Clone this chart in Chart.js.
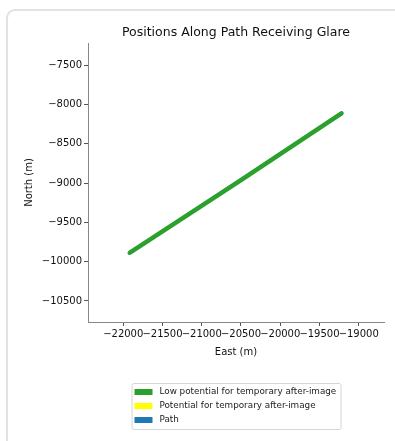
<!DOCTYPE html>
<html>
<head>
<meta charset="UTF-8">
<title>Glare path</title>
<script src="https://cdn.jsdelivr.net/npm/chart.js@4"></script>
<style>
  body { margin: 0; background: #fff; }
  #card { position: absolute; left: 6px; top: 9px; width: 430px; height: 470px;
          border: 2px solid #e2e2e2; border-radius: 9px; }
  #c { position: absolute; left: 0; top: 0; }
</style>
</head>
<body>
<div id="card"></div>
<canvas id="c" width="395" height="441"></canvas>
<script>
// values
const seriesLabels = ['Low potential for temporary after-image', 'Potential for temporary after-image', 'Path'];
const seriesColors = ['#2ca02c', '#ffff00', '#1f77b4'];
const lowEast = [-21915, -20500, -19220];
const lowNorth = [-9886, -8962, -8114];
const yellowEast = [];
const yellowNorth = [];
const pathEast = [-21925, -19215];
const pathNorth = [-9892, -8110];
const eastTicks = [-22000, -21500, -21000, -20500, -20000, -19500, -19000];
const northTicks = [-10500, -10000, -9500, -9000, -8500, -8000, -7500];
const eastRange = [-22449, -18678];
const northRange = [-10767, -7220];

const fmt = v => String(v).replace('-', '\u2212');
const pts = (xs, ys) => xs.map((x, i) => ({ x: x, y: ys[i] }));

const legendBox = {
  id: 'legendBox',
  afterDraw(chart) {
    const ctx = chart.ctx, a = chart.chartArea;
    const cx = (a.left + a.right) / 2;
    const w = 209, h = 46, top = a.bottom + 61;
    const left = cx - w / 2;
    ctx.save();
    ctx.fillStyle = '#fff';
    ctx.strokeStyle = '#d6d6d6';
    ctx.lineWidth = 1;
    ctx.beginPath();
    ctx.roundRect(left + 0.5, top + 0.5, w, h, 2);
    ctx.fill(); ctx.stroke();
    ctx.font = '8.8px "DejaVu Sans"';
    ctx.textBaseline = 'middle';
    chart.data.datasets.forEach((ds, i) => {
      const y = top + 9 + i * 14;
      ctx.fillStyle = ds.borderColor;
      ctx.fillRect(left + 3, y - 3, 18, 6);
      ctx.fillStyle = '#222';
      ctx.fillText(ds.label, left + 28, y);
    });
    ctx.restore();
  }
};

new Chart(document.getElementById('c'), {
  type: 'scatter',
  data: {
    datasets: [
      { label: seriesLabels[0], data: pts(lowEast, lowNorth), borderColor: seriesColors[0], backgroundColor: seriesColors[0],
        showLine: true, borderWidth: 4.5, pointRadius: 0, borderCapStyle: 'round', order: 1 },
      { label: seriesLabels[1], data: pts(yellowEast, yellowNorth), borderColor: seriesColors[1], backgroundColor: seriesColors[1],
        showLine: true, borderWidth: 4.5, pointRadius: 0, order: 2 },
      { label: seriesLabels[2], data: pts(pathEast, pathNorth), borderColor: seriesColors[2], backgroundColor: seriesColors[2],
        showLine: true, borderWidth: 3, pointRadius: 0, borderCapStyle: 'round', order: 3 }
    ]
  },
  options: {
    responsive: false,
    animation: false,
    layout: { padding: { left: 0, right: 11, top: 0, bottom: 69 } },
    plugins: {
      legend: { display: false },
      tooltip: { enabled: false },
      title: {
        display: true, fullSize: false,
        text: 'Positions Along Path Receiving Glare',
        color: '#111',
        font: { family: 'DejaVu Sans', size: 12.5, weight: 'normal' },
        padding: { top: 25, bottom: 3 }
      }
    },
    scales: {
      x: {
        type: 'linear', min: eastRange[0], max: eastRange[1],
        afterFit: s => { s.height = 50; },
        afterBuildTicks: s => { s.ticks = eastTicks.map(v => ({ value: v })); },
        grid: { display: true, drawOnChartArea: false, drawTicks: true, tickLength: 4, color: '#555' },
        border: { display: true, color: '#888' },
        ticks: { autoSkip: false, maxRotation: 0, minRotation: 0, padding: 2, color: '#111',
                 font: { family: 'DejaVu Sans', size: 10 }, callback: v => fmt(v) },
        title: { display: true, text: 'East (m)', color: '#111',
                 font: { family: 'DejaVu Sans', size: 10 }, padding: { top: 0, bottom: 14 } }
      },
      y: {
        type: 'linear', min: northRange[0], max: northRange[1],
        afterFit: s => { s.width = 88; },
        afterBuildTicks: s => { s.ticks = northTicks.map(v => ({ value: v })); },
        grid: { display: true, drawOnChartArea: false, drawTicks: true, tickLength: 4, color: '#555' },
        border: { display: true, color: '#888' },
        ticks: { autoSkip: false, padding: 2, color: '#111',
                 font: { family: 'DejaVu Sans', size: 10 }, callback: v => fmt(v) },
        title: { display: true, text: 'North (m)', color: '#111',
                 font: { family: 'DejaVu Sans', size: 10 }, padding: { top: 23, bottom: 0 } }
      }
    }
  },
  plugins: [legendBox]
});
</script>
</body>
</html>
